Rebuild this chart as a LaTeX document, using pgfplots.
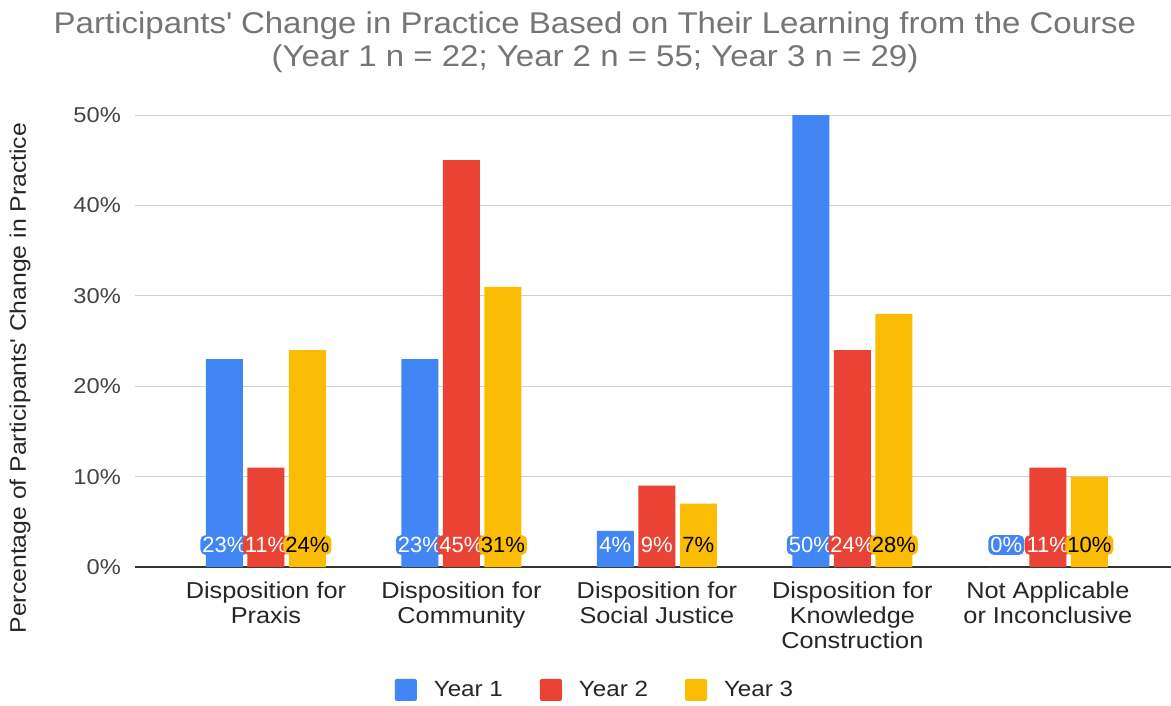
\documentclass[border=0pt]{standalone}
\usepackage{fontspec}
\setmainfont{Liberation Sans}[FakeStretch=1.1]
\newfontfamily\lblfont{Liberation Sans}
\usepackage{pgfplots}
\pgfplotsset{compat=1.18}
\usepackage{pgfplotstable}
\definecolor{cB}{HTML}{4285F4}
\definecolor{cR}{HTML}{EA4335}
\definecolor{cY}{HTML}{FBBC04}
\definecolor{tgray}{HTML}{757575}
\definecolor{lgray}{HTML}{444444}
\definecolor{ggray}{HTML}{D0D0D0}

\pgfplotstableread{
x y1 y2 y3
0 23 11 24
1 23 45 31
2 4 9 7
3 50 24 28
4 0 11 10
}\data

\begin{document}
\begin{tikzpicture}[x=1pt,y=1pt]
\useasboundingbox (-135,-138) rectangle (1036,567);
\begin{axis}[
  at={(0,0)}, anchor=south west,
  scale only axis, width=1036pt, height=452pt,
  xmin=-0.67, xmax=4.63, ymin=0, ymax=50,
  /pgf/number format/assume math mode=true,
  axis line style={draw=none},
  major tick length=0pt,
  xtick={0,1,2,3,4},
  xticklabels={{Disposition for\\Praxis},{Disposition for\\Community},{Disposition for\\Social Justice},{Disposition for\\Knowledge\\Construction},{Not Applicable\\or Inconclusive}},
  xticklabel style={align=center, font=\fontsize{23}{25}\selectfont, text=black!85, inner sep=0pt, yshift=-15pt},
  ytick={10,20,30,40,50},
  yticklabel={\pgfmathprintnumber{\tick}\%},
  yticklabel style={font=\fontsize{21.5}{24}\selectfont, text=lgray, inner sep=0pt, xshift=-14pt},
  extra y ticks={0},
  extra y tick labels={0\%},
  extra y tick style={grid style={line width=1.6pt, draw=black!80}},
  ymajorgrids,
  grid style={line width=1pt, draw=ggray},
  ylabel={Percentage of Participants\textquotesingle\ Change in Practice},
  every axis y label/.style={at={(axis description cs:-0.111,0.418)}, rotate=90, anchor=center, font=\fontsize{22.5}{26}\selectfont, text=black!85},
  title={Participants\textquotesingle\ Change in Practice Based on Their Learning from the Course\\(Year 1 n = 22; Year 2 n = 55; Year 3 n = 29)},
  title style={at={(axis description cs:0.444,1)}, anchor=north, yshift=97pt, align=center, font=\fontsize{30}{33}\selectfont, text=tgray, inner sep=0pt},
  legend style={at={(axis description cs:0.444,-0.272)}, anchor=center, draw=none, legend columns=3, font=\fontsize{22}{26}\selectfont, text=black!85,
    /tikz/every even column/.append style={column sep=35pt},
    /tikz/every odd column/.append style={column sep=15pt}},
  legend image code/.code={\fill[#1, rounded corners=2pt] (0pt,-11pt) rectangle (22pt,11pt);},
]
\addplot[ybar, bar width=37pt, bar shift=-41.5pt, fill=cB, draw=none] table[x=x, y=y1] {\data};
\addlegendentry{Year 1}
\addplot[ybar, bar width=37pt, bar shift=0pt, fill=cR, draw=none] table[x=x, y=y2] {\data};
\addlegendentry{Year 2}
\addplot[ybar, bar width=37pt, bar shift=41.5pt, fill=cY, draw=none] table[x=x, y=y3] {\data};
\addlegendentry{Year 3}
% value labels
\addplot[forget plot, draw=none, mark=none, point meta=\thisrow{y1},
  nodes near coords={\pgfmathprintnumber{\pgfplotspointmeta}\%},
  every node near coord/.append style={font=\lblfont\fontsize{22}{24}\selectfont, text=white, fill=cB, rounded corners=5pt, inner sep=2pt, anchor=center, xshift=-41.5pt, yshift=22pt}]
  table[x=x, y expr=0] {\data};
\addplot[forget plot, draw=none, mark=none, point meta=\thisrow{y2},
  nodes near coords={\pgfmathprintnumber{\pgfplotspointmeta}\%},
  every node near coord/.append style={font=\lblfont\fontsize{22}{24}\selectfont, text=white, fill=cR, rounded corners=5pt, inner sep=2pt, anchor=center, xshift=0pt, yshift=22pt}]
  table[x=x, y expr=0] {\data};
\addplot[forget plot, draw=none, mark=none, point meta=\thisrow{y3},
  nodes near coords={\pgfmathprintnumber{\pgfplotspointmeta}\%},
  every node near coord/.append style={font=\lblfont\fontsize{22}{24}\selectfont, text=black, fill=cY, rounded corners=5pt, inner sep=2pt, anchor=center, xshift=41.5pt, yshift=22pt}]
  table[x=x, y expr=0] {\data};
\end{axis}
\end{tikzpicture}
\end{document}
